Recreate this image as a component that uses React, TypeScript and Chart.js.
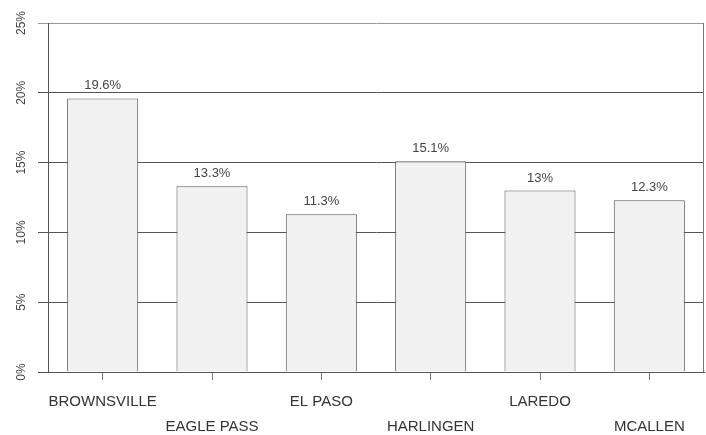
import React, { useEffect, useRef } from "react";
import { Chart, registerables } from "chart.js";

Chart.register(...registerables);

const categories: string[] = ["BROWNSVILLE", "EAGLE PASS", "EL PASO", "HARLINGEN", "LAREDO", "MCALLEN"];
const values: number[] = [19.6, 13.3, 11.3, 15.1, 13, 12.3];
const yTicks: number[] = [0, 5, 10, 15, 20, 25];

const FONT = "'Liberation Sans', Arial, Helvetica, sans-serif";

const valueLabelPlugin = {
  id: "valueLabels",
  afterDatasetsDraw(chart: any) {
    const ctx = chart.ctx;
    const meta = chart.getDatasetMeta(0);
    ctx.save();
    ctx.font = `13px ${FONT}`;
    ctx.fillStyle = "#444";
    ctx.textAlign = "center";
    ctx.textBaseline = "alphabetic";
    meta.data.forEach((bar: any, i: number) => {
      ctx.fillText(`${values[i]}%`, bar.x, bar.y - 9);
    });
    ctx.restore();
  },
};

const framePlugin = {
  id: "frame",
  beforeDatasetsDraw(chart: any) {
    const { ctx, chartArea } = chart;
    ctx.save();
    ctx.strokeStyle = "#777";
    ctx.lineWidth = 1;
    ctx.beginPath();
    ctx.moveTo(Math.round(chartArea.right) - 0.5, chartArea.top);
    ctx.lineTo(Math.round(chartArea.right) - 0.5, chartArea.bottom);
    ctx.stroke();
    ctx.restore();
  },
};

export default function App() {
  const ref = useRef<HTMLCanvasElement | null>(null);

  useEffect(() => {
    if (!ref.current) return;
    const labels = categories.map((c, i) => (i % 2 === 0 ? [c] : ["", c]));
    const chart = new Chart(ref.current, {
      type: "bar",
      data: {
        labels,
        datasets: [
          {
            data: values,
            backgroundColor: "#f1f1f1",
            borderColor: "#5a5a5a",
            borderWidth: 1,
            categoryPercentage: 1,
            barPercentage: 0.65,
          },
        ],
      },
      options: {
        responsive: false,
        animation: false,
        layout: { padding: { top: 23, right: 2, left: 0, bottom: 0 } },
        plugins: { legend: { display: false }, tooltip: { enabled: false } },
        scales: {
          x: {
            grid: {
              display: true,
              drawOnChartArea: false,
              drawTicks: true,
              tickLength: 8,
              offset: false,
              color: "#777",
            },
            border: { display: true, color: "#555", width: 1 },
            ticks: {
              color: "#333",
              font: { family: FONT, size: 15, lineHeight: 1.667 },
              padding: 9,
              maxRotation: 0,
              minRotation: 0,
              autoSkip: false,
            },
            afterFit: (scale: any) => {
              scale.height = 63;
            },
          },
          y: {
            min: 0,
            max: 25,
            afterBuildTicks: (scale: any) => {
              scale.ticks = yTicks.map((v) => ({ value: v }));
            },
            grid: {
              color: (c: any) => (c.tick && c.tick.value === 25 ? "#999" : "#555"),
              tickLength: 10,
              lineWidth: 1,
            },
            border: { display: true, color: "#555", width: 1 },
            ticks: {
              color: "#444",
              font: { family: FONT, size: 12 },
              minRotation: 90,
              maxRotation: 90,
              crossAlign: "center",
              padding: 4,
              callback: (v: any) => `${v}%`,
            },
            afterFit: (scale: any) => {
              scale.width = 48;
            },
          },
        },
      },
      plugins: [valueLabelPlugin, framePlugin],
    });
    return () => chart.destroy();
  }, []);

  return (
    <div style={{ position: "absolute", left: 0, top: 0, width: 706, height: 435, background: "#fff" }}>
      <canvas ref={ref} width={706} height={435} style={{ display: "block" }} />
    </div>
  );
}
